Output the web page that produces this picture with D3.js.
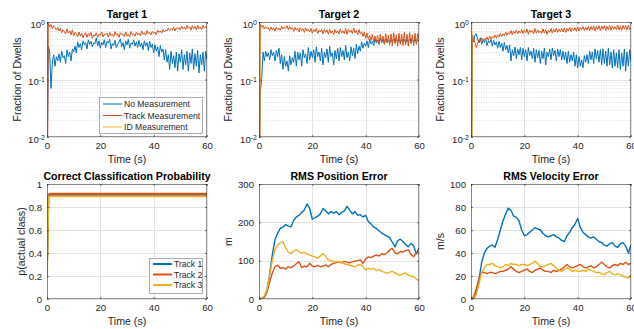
<!DOCTYPE html>
<html>
<head>
<meta charset="utf-8">
<script src="https://cdn.jsdelivr.net/npm/d3@7/dist/d3.min.js"></script>
<style>
  body { margin: 0; background: #fff; }
  svg { font-family: "Liberation Sans", Arial, sans-serif; }
</style>
</head>
<body>
<svg id="fig" width="634" height="329"></svg>
<script>
// ---- data ----
const dwellTime = d3.range(0, 60.001, 0.5); // 0.5 s dwell samples
const secTime = d3.range(0, 61, 1);         // 1 s samples for RMS errors

const t1None = [0.001, 0.38, 0.3, 0.07, 0.2, 0.27, 0.17, 0.25, 0.21, 0.28,
  0.2, 0.31, 0.24, 0.26, 0.19, 0.33, 0.25, 0.3, 0.21, 0.34,
  0.3, 0.38, 0.29, 0.45, 0.36, 0.42, 0.33, 0.47, 0.4, 0.44,
  0.34, 0.49, 0.41, 0.46, 0.37, 0.43, 0.42, 0.53, 0.38, 0.47,
  0.35, 0.44, 0.4, 0.49, 0.36, 0.46, 0.43, 0.5, 0.34, 0.42,
  0.39, 0.48, 0.36, 0.41, 0.45, 0.51, 0.37, 0.44, 0.33, 0.47,
  0.4, 0.5, 0.35, 0.43, 0.41, 0.49, 0.38, 0.45, 0.36, 0.48,
  0.37, 0.43, 0.33, 0.47, 0.38, 0.44, 0.32, 0.46, 0.36, 0.41,
  0.29, 0.4, 0.31, 0.37, 0.25, 0.39, 0.3, 0.34, 0.22, 0.33,
  0.2, 0.27, 0.15, 0.31, 0.19, 0.26, 0.16, 0.3, 0.14, 0.28,
  0.2, 0.33, 0.15, 0.27, 0.18, 0.31, 0.14, 0.29, 0.19, 0.34,
  0.15, 0.28, 0.17, 0.32, 0.13, 0.27, 0.18, 0.3, 0.14, 0.31,
  0.22];
const t1Track = [0, 0.95, 0.82, 0.9, 0.76, 0.86, 0.8, 0.72, 0.81, 0.7,
  0.77, 0.65, 0.73, 0.68, 0.62, 0.76, 0.64, 0.7, 0.6, 0.73,
  0.58, 0.66, 0.62, 0.55, 0.67, 0.57, 0.63, 0.53, 0.61, 0.65,
  0.54, 0.63, 0.58, 0.66, 0.52, 0.6, 0.57, 0.65, 0.54, 0.61,
  0.59, 0.67, 0.55, 0.62, 0.6, 0.64, 0.55, 0.66, 0.58, 0.61,
  0.56, 0.68, 0.59, 0.63, 0.54, 0.65, 0.6, 0.62, 0.56, 0.67,
  0.57, 0.61, 0.55, 0.68, 0.6, 0.63, 0.57, 0.66, 0.6, 0.64,
  0.58, 0.7, 0.61, 0.65, 0.59, 0.71, 0.62, 0.66, 0.6, 0.69,
  0.63, 0.67, 0.6, 0.72, 0.66, 0.7, 0.64, 0.74, 0.67, 0.72,
  0.7, 0.78, 0.71, 0.76, 0.73, 0.81, 0.7, 0.79, 0.75, 0.8,
  0.73, 0.85, 0.76, 0.81, 0.74, 0.87, 0.78, 0.83, 0.72, 0.86,
  0.77, 0.84, 0.73, 0.88, 0.76, 0.82, 0.74, 0.87, 0.78, 0.83,
  0.8];

const t2None = [0, 0.06, 0.1, 0.3, 0.21, 0.31, 0.25, 0.29, 0.22, 0.33,
  0.26, 0.3, 0.21, 0.32, 0.25, 0.35, 0.19, 0.27, 0.15, 0.25,
  0.17, 0.21, 0.14, 0.26, 0.18, 0.24, 0.2, 0.31, 0.17, 0.3,
  0.22, 0.29, 0.17, 0.33, 0.24, 0.28, 0.19, 0.36, 0.22, 0.31,
  0.24, 0.33, 0.2, 0.37, 0.25, 0.3, 0.21, 0.35, 0.18, 0.3,
  0.24, 0.34, 0.2, 0.38, 0.25, 0.29, 0.18, 0.32, 0.23, 0.35,
  0.21, 0.36, 0.25, 0.32, 0.22, 0.39, 0.24, 0.3, 0.21, 0.37,
  0.26, 0.35, 0.23, 0.41, 0.28, 0.38, 0.31, 0.45, 0.35, 0.43,
  0.38, 0.47, 0.36, 0.5, 0.42, 0.46, 0.39, 0.51, 0.43, 0.48,
  0.41, 0.52, 0.44, 0.49, 0.42, 0.5, 0.45, 0.48, 0.43, 0.5,
  0.45, 0.5, 0.44, 0.5, 0.45, 0.5, 0.44, 0.5, 0.45, 0.5,
  0.44, 0.5, 0.45, 0.5, 0.44, 0.5, 0.45, 0.5, 0.44, 0.5,
  0.46];
const t2Track = [0, 0.92, 0.81, 0.87, 0.75, 0.83, 0.77, 0.8, 0.71, 0.82,
  0.73, 0.79, 0.7, 0.81, 0.74, 0.78, 0.72, 0.84, 0.76, 0.82,
  0.78, 0.86, 0.73, 0.83, 0.75, 0.8, 0.69, 0.81, 0.72, 0.77,
  0.68, 0.8, 0.71, 0.76, 0.66, 0.79, 0.7, 0.75, 0.67, 0.77,
  0.64, 0.74, 0.68, 0.77, 0.63, 0.72, 0.67, 0.75, 0.62, 0.74,
  0.66, 0.73, 0.61, 0.75, 0.64, 0.7, 0.6, 0.74, 0.65, 0.71,
  0.62, 0.76, 0.64, 0.7, 0.63, 0.77, 0.61, 0.74, 0.66, 0.72,
  0.63, 0.78, 0.65, 0.72, 0.6, 0.74, 0.62, 0.68, 0.56, 0.67,
  0.52, 0.64, 0.5, 0.58, 0.48, 0.61, 0.45, 0.57, 0.46, 0.59,
  0.42, 0.61, 0.44, 0.57, 0.41, 0.63, 0.43, 0.59, 0.4, 0.62,
  0.39, 0.65, 0.42, 0.6, 0.38, 0.64, 0.41, 0.62, 0.39, 0.66,
  0.4, 0.61, 0.38, 0.65, 0.42, 0.6, 0.39, 0.64, 0.41, 0.63,
  0.5];

const t3None = [0, 0.5, 0.45, 0.6, 0.62, 0.5, 0.43, 0.53, 0.41, 0.48,
  0.44, 0.51, 0.39, 0.47, 0.43, 0.5, 0.38, 0.48, 0.4, 0.45,
  0.35, 0.46, 0.36, 0.43, 0.31, 0.44, 0.33, 0.39, 0.29, 0.4,
  0.21, 0.33, 0.26, 0.37, 0.23, 0.34, 0.27, 0.36, 0.22, 0.35,
  0.25, 0.33, 0.21, 0.36, 0.26, 0.31, 0.23, 0.35, 0.2, 0.33,
  0.24, 0.32, 0.19, 0.31, 0.23, 0.35, 0.18, 0.3, 0.25, 0.34,
  0.22, 0.35, 0.26, 0.32, 0.21, 0.34, 0.25, 0.33, 0.22, 0.31,
  0.22, 0.3, 0.19, 0.31, 0.2, 0.27, 0.21, 0.3, 0.17, 0.27,
  0.16, 0.25, 0.17, 0.22, 0.16, 0.26, 0.2, 0.27, 0.19, 0.31,
  0.22, 0.3, 0.19, 0.34, 0.23, 0.32, 0.2, 0.33, 0.18, 0.34,
  0.19, 0.31, 0.17, 0.35, 0.18, 0.3, 0.16, 0.33, 0.17, 0.29,
  0.16, 0.33, 0.15, 0.29, 0.17, 0.34, 0.14, 0.3, 0.17, 0.33,
  0.2];
const t3Track = [0, 0.6, 0.5, 0.44, 0.36, 0.43, 0.49, 0.46, 0.53, 0.47,
  0.52, 0.49, 0.55, 0.48, 0.57, 0.51, 0.56, 0.52, 0.59, 0.53,
  0.6, 0.55, 0.63, 0.56, 0.62, 0.58, 0.67, 0.59, 0.66, 0.61,
  0.71, 0.6, 0.69, 0.63, 0.73, 0.62, 0.7, 0.64, 0.74, 0.63,
  0.72, 0.65, 0.75, 0.61, 0.73, 0.66, 0.71, 0.62, 0.77, 0.64,
  0.73, 0.65, 0.7, 0.63, 0.76, 0.64, 0.74, 0.61, 0.72, 0.66,
  0.77, 0.64, 0.74, 0.67, 0.78, 0.66, 0.75, 0.68, 0.77, 0.67,
  0.79, 0.66, 0.77, 0.7, 0.81, 0.68, 0.78, 0.71, 0.8, 0.69,
  0.82, 0.7, 0.8, 0.73, 0.83, 0.71, 0.81, 0.72, 0.84, 0.7,
  0.83, 0.73, 0.85, 0.7, 0.84, 0.74, 0.86, 0.71, 0.85, 0.75,
  0.86, 0.71, 0.84, 0.74, 0.87, 0.72, 0.85, 0.75, 0.83, 0.73,
  0.88, 0.73, 0.85, 0.72, 0.87, 0.75, 0.86, 0.72, 0.88, 0.74,
  0.8];

// ID measurements only happen at the very start
const idTime = [0, 0.3, 0.5, 60];
const t1Id = [1, 0, 0, 0];
const t2Id = [1, 1, 0, 0];
const t3Id = [1, 1, 0, 0];

const classTime = [0, 0.5, 1, 60];
const classTrack1 = [0.33, 0.89, 0.905, 0.905];
const classTrack2 = [0.33, 0.9, 0.915, 0.915];
const classTrack3 = [0.2, 0.88, 0.893, 0.893];

const posTrack1 = [0, 2, 6, 25, 65, 115, 155, 172, 184, 188, 194, 190, 188, 205, 214, 218, 226, 232, 248, 236,
  208, 212, 216, 222, 236, 230, 222, 228, 224, 228, 220, 226, 230, 242, 232, 222, 228, 218, 220, 214,
  218, 202, 196, 188, 184, 178, 172, 168, 164, 160, 148, 136, 152, 156, 150, 142, 136, 145, 138, 118, 132];
const posTrack2 = [0, 1, 4, 18, 45, 68, 84, 88, 80, 82, 78, 84, 82, 86, 92, 97, 82, 86, 84, 93,
  86, 84, 88, 84, 86, 89, 84, 90, 93, 95, 97, 94, 98, 96, 94, 97, 99, 100, 102, 93,
  104, 110, 108, 112, 115, 112, 118, 116, 120, 128, 132, 120, 118, 124, 122, 126, 128, 116, 110, 122, 118];
const posTrack3 = [0, 1, 8, 25, 62, 100, 128, 140, 147, 149, 134, 122, 118, 126, 128, 124, 119, 122, 117, 115,
  112, 110, 106, 112, 118, 112, 102, 100, 97, 98, 97, 96, 92, 90, 88, 86, 84, 88, 90, 86,
  76, 80, 78, 80, 74, 76, 72, 70, 67, 70, 72, 68, 64, 62, 66, 68, 62, 60, 58, 52, 48];

const velTrack1 = [0, 1, 6, 17, 32, 40, 44, 46, 47, 45, 52, 60, 68, 74, 79, 77, 72, 71, 68, 60,
  55, 56, 58, 60, 62, 61, 60, 57, 55, 54, 55, 56, 54, 53, 51, 50, 55, 58, 62, 65,
  70, 62, 58, 56, 54, 53, 54, 52, 50, 49, 47, 46, 48, 49, 46, 45, 48, 49, 46, 40, 47];
const velTrack2 = [0, 2, 9, 18, 23, 23, 22, 23, 23, 22, 23, 24, 24, 25, 26, 28, 26, 24, 23, 24,
  25, 26, 24, 23, 25, 26, 27, 25, 24, 24, 23, 25, 24, 25, 26, 28, 30, 28, 27, 28,
  29, 30, 28, 27, 28, 29, 27, 28, 30, 32, 30, 28, 27, 29, 30, 29, 31, 30, 32, 30, 31];
const velTrack3 = [0, 0, 4, 13, 23, 27, 30, 30, 31, 29, 28, 27, 28, 30, 29, 31, 30, 30, 29, 30,
  30, 29, 30, 31, 33, 31, 28, 28, 29, 30, 31, 29, 27, 25, 24, 26, 27, 26, 24, 25,
  24, 24, 25, 24, 26, 25, 24, 23, 23, 22, 21, 23, 24, 22, 21, 22, 21, 20, 19, 18, 21];

const timeTicks = [0, 20, 40, 60];
const dwellLegend = ['No Measurement', 'Track Measurement', 'ID Measurement'];
const trackLegend = ['Track 1', 'Track 2', 'Track 3'];

// ---- drawing ----
const BLUE = '#0072BD', ORANGE = '#D95319', YELLOW = '#EDB120';
const INK = '#262626';
const W = 160, H = 115;
const svg = d3.select('#fig');

function panel(o) {
  const g = svg.append('g').attr('transform', `translate(${o.x},${o.y})`);
  const x = d3.scaleLinear().domain([0, 60]).range([0, W]);
  const y = o.log
    ? d3.scaleLog().domain([0.01, 1]).range([H, 0])
    : d3.scaleLinear().domain(o.yDomain).range([H, 0]);

  g.append('rect').attr('width', W).attr('height', H).attr('fill', '#fff');

  // grid
  if (o.log) {
    const minor = [];
    [0.01, 0.1].forEach(dec => d3.range(2, 10).forEach(k => minor.push(dec * k)));
    g.selectAll('.mgrid').data(minor).enter().append('line')
      .attr('x1', 0).attr('x2', W)
      .attr('y1', d => Math.round(y(d)) + 0.5).attr('y2', d => Math.round(y(d)) + 0.5)
      .attr('stroke', '#d4d4d4').attr('stroke-width', 0.8).attr('stroke-dasharray', '1,1.5');
  }
  g.selectAll('.hgrid').data(o.yTicks).enter().append('line')
    .attr('x1', 0).attr('x2', W)
    .attr('y1', d => Math.round(y(d)) + 0.5).attr('y2', d => Math.round(y(d)) + 0.5)
    .attr('stroke', '#e3e3e3');
  g.selectAll('.vgrid').data(timeTicks).enter().append('line')
    .attr('y1', 0).attr('y2', H)
    .attr('x1', d => Math.round(x(d)) + 0.5).attr('x2', d => Math.round(x(d)) + 0.5)
    .attr('stroke', '#e3e3e3');

  // data
  const clipId = 'clip' + o.key;
  g.append('clipPath').attr('id', clipId).append('rect').attr('width', W).attr('height', H);
  const plot = g.append('g').attr('clip-path', `url(#${clipId})`);
  o.series.forEach(s => {
    const line = d3.line()
      .x((d, i) => x(s.t[i]))
      .y(d => o.log ? y(Math.max(d, 1e-4)) : y(d));
    plot.append('path').datum(s.v)
      .attr('fill', 'none')
      .attr('stroke', s.color)
      .attr('stroke-width', o.lw)
      .attr('stroke-linejoin', 'round')
      .attr('d', line);
  });

  // axes (ticks point inward like MATLAB)
  const xa = g.append('g').attr('transform', `translate(0,${H})`)
    .call(d3.axisBottom(x).tickValues(timeTicks).tickFormat(d3.format('d'))
      .tickSizeInner(-2).tickSizeOuter(0).tickPadding(5));
  g.append('g').call(d3.axisTop(x).tickValues(timeTicks).tickFormat('')
    .tickSizeInner(-2).tickSizeOuter(0));
  const ya = g.append('g')
    .call(d3.axisLeft(y).tickValues(o.yTicks).tickFormat(o.log ? '' : o.yFormat)
      .tickSizeInner(-2).tickSizeOuter(0).tickPadding(o.log ? 2 : 5));
  g.append('g').attr('transform', `translate(${W},0)`)
    .call(d3.axisRight(y).tickValues(o.yTicks).tickFormat('').tickSizeInner(-2).tickSizeOuter(0));
  g.selectAll('.domain').remove();
  g.selectAll('.tick line').attr('stroke', INK).attr('stroke-width', 0.6);
  [xa, ya].forEach(a => a.selectAll('text')
    .attr('fill', INK).style('font-size', '9.6px').style('font-family', 'inherit'));

  if (o.log) {
    ya.selectAll('.tick text').each(function (d) {
      const t = d3.select(this).attr('dy', '0.55em');
      t.append('tspan').text('10');
      t.append('tspan').attr('dy', '-0.45em').style('font-size', '7px')
        .text(String(Math.round(Math.log10(d))));
    });
  }

  g.append('rect').attr('x', 0.25).attr('y', 0.25).attr('width', W - 0.5).attr('height', H - 0.5)
    .attr('fill', 'none').attr('stroke', INK).attr('stroke-width', 0.5);

  // labels
  g.append('text').attr('x', W / 2).attr('y', -4)
    .attr('text-anchor', 'middle').attr('fill', '#000')
    .style('font-size', '10.6px').style('font-weight', 'bold').text(o.title);
  g.append('text').attr('x', W / 2).attr('y', H + 26)
    .attr('text-anchor', 'middle').attr('fill', INK)
    .style('font-size', '10.6px').text('Time (s)');
  g.append('text')
    .attr('transform', `translate(${o.yLabelX},${H / 2}) rotate(-90)`)
    .attr('text-anchor', 'middle').attr('fill', INK)
    .style('font-size', '10.6px').text(o.yLabel);

  if (o.legend) {
    const L = o.legend;
    const lg = g.append('g').attr('transform', `translate(${L.x},${L.y})`);
    lg.append('rect').attr('x', 0.5).attr('y', 0.5).attr('width', L.w).attr('height', L.h)
      .attr('fill', '#fff').attr('stroke', '#9a9a9a').attr('stroke-width', 0.8);
    L.names.forEach((name, i) => {
      const cy = L.row0 + i * L.step;
      lg.append('line').attr('x1', 4).attr('x2', 23).attr('y1', cy).attr('y2', cy)
        .attr('stroke', o.series[i].color).attr('stroke-width', L.lw);
      lg.append('text').attr('x', 25).attr('y', cy).attr('dy', '0.35em')
        .attr('fill', INK).style('font-size', '8.6px').text(name);
    });
  }
}

const logTicks = [0.01, 0.1, 1];

panel({
  key: 't1', x: 47, y: 22, log: true, yTicks: logTicks, lw: 1,
  title: 'Target 1', yLabel: 'Fraction of Dwells', yLabelX: -26,
  series: [
    { t: dwellTime, v: t1None, color: BLUE },
    { t: dwellTime, v: t1Track, color: ORANGE },
    { t: idTime, v: t1Id, color: YELLOW }
  ],
  legend: { x: 52, y: 75, w: 103, h: 36, row0: 7, step: 11.5, lw: 1, names: dwellLegend }
});
panel({
  key: 't2', x: 259, y: 22, log: true, yTicks: logTicks, lw: 1,
  title: 'Target 2', yLabel: 'Fraction of Dwells', yLabelX: -27,
  series: [
    { t: dwellTime, v: t2None, color: BLUE },
    { t: dwellTime, v: t2Track, color: ORANGE },
    { t: idTime, v: t2Id, color: YELLOW }
  ]
});
panel({
  key: 't3', x: 471, y: 22, log: true, yTicks: logTicks, lw: 1,
  title: 'Target 3', yLabel: 'Fraction of Dwells', yLabelX: -27,
  series: [
    { t: dwellTime, v: t3None, color: BLUE },
    { t: dwellTime, v: t3Track, color: ORANGE },
    { t: idTime, v: t3Id, color: YELLOW }
  ]
});
panel({
  key: 'c', x: 47, y: 184, yDomain: [0, 1], yTicks: [0, 0.2, 0.4, 0.6, 0.8, 1],
  yFormat: d => d === 0 || d === 1 ? String(d) : d3.format('.1f')(d), lw: 2,
  title: 'Correct Classification Probability', yLabel: 'p(actual class)', yLabelX: -22,
  series: [
    { t: classTime, v: classTrack1, color: BLUE },
    { t: classTime, v: classTrack2, color: ORANGE },
    { t: classTime, v: classTrack3, color: YELLOW }
  ],
  legend: { x: 102, y: 74, w: 53, h: 35, row0: 6, step: 10.5, lw: 2, names: trackLegend }
});
panel({
  key: 'p', x: 259, y: 184, yDomain: [0, 300], yTicks: [0, 100, 200, 300], yFormat: d3.format('d'), lw: 1.4,
  title: 'RMS Position Error', yLabel: 'm', yLabelX: -27,
  series: [
    { t: secTime, v: posTrack1, color: BLUE },
    { t: secTime, v: posTrack2, color: ORANGE },
    { t: secTime, v: posTrack3, color: YELLOW }
  ]
});
panel({
  key: 'v', x: 471, y: 184, yDomain: [0, 100], yTicks: [0, 20, 40, 60, 80, 100], yFormat: d3.format('d'), lw: 1.4,
  title: 'RMS Velocity Error', yLabel: 'm/s', yLabelX: -27,
  series: [
    { t: secTime, v: velTrack1, color: BLUE },
    { t: secTime, v: velTrack2, color: ORANGE },
    { t: secTime, v: velTrack3, color: YELLOW }
  ]
});
</script>
</body>
</html>
